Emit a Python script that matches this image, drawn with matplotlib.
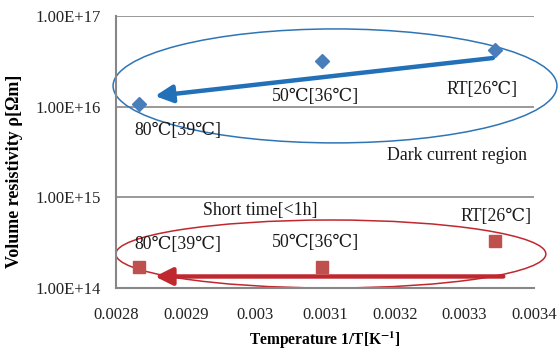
import matplotlib
matplotlib.use('Agg')
from matplotlib import pyplot as plt
from matplotlib.patches import Ellipse
from matplotlib.ticker import FixedLocator, FuncFormatter

plt.rcParams['font.family'] = ['Liberation Serif', 'DejaVu Serif', 'Noto Sans CJK JP']
plt.rcParams['mathtext.fontset'] = 'stix'

# data: 1/T [1/K] and volume resistivity [Ohm m]
inv_temp = [1 / 353, 1 / 323, 1 / 299]
rho_dark = [1.07e16, 3.2e16, 4.2e16]
rho_short = [1.7e14, 1.7e14, 3.3e14]

x_ticks = [0.0028, 0.0029, 0.0030, 0.0031, 0.0032, 0.0033, 0.0034]
y_ticks = [1e14, 1e15, 1e16, 1e17]

blue_labels = ['80℃[39℃]', '50℃[36℃]', 'RT[26℃]']
red_labels = ['80℃[39℃]', '50℃[36℃]', 'RT[26℃]']

fig = plt.figure(figsize=(5.58, 3.52), dpi=100)
ax = fig.add_axes([0.2079, 0.1818, 0.749, 0.7727])

grid_col = '#878787'
ax.set_yscale('log')
ax.set_xlim(0.0028, 0.0034)
ax.set_ylim(1e14, 1e17)
ax.yaxis.set_major_locator(FixedLocator(y_ticks))
ax.yaxis.set_minor_locator(FixedLocator([]))
ax.yaxis.set_major_formatter(FuncFormatter(lambda v, p: f'{v:.2E}'))
ax.xaxis.set_major_locator(FixedLocator(x_ticks))
ax.xaxis.set_major_formatter(FuncFormatter(lambda v, p: f'{round(v, 4):g}'))
ax.tick_params(length=0, labelsize=12, colors='#222222')
ax.tick_params(axis='x', pad=14)
ax.tick_params(axis='y', pad=11)
ax.grid(axis='y', color=grid_col, lw=1.2)
for s in ['top', 'right']:
    ax.spines[s].set_visible(False)
for s in ['left', 'bottom']:
    ax.spines[s].set_color(grid_col)
    ax.spines[s].set_linewidth(1.5)

ax.plot(inv_temp, rho_dark, 'D', color='#4A7EBB', markersize=7, clip_on=False, zorder=4)
ax.plot(inv_temp, rho_short, 's', color='#C0504D', markersize=9, clip_on=False, zorder=4)

# arrows
ax.annotate('', xy=(0.002856, 1.31e16), xytext=(0.003341, 3.44e16),
            arrowprops=dict(arrowstyle='-|>', lw=3.2, color='#2170B8',
                            mutation_scale=26, shrinkA=0, shrinkB=0), zorder=3)
ax.annotate('', xy=(0.002856, 1.34e14), xytext=(0.003356, 1.34e14),
            arrowprops=dict(arrowstyle='-|>', lw=3.2, color='#C0282F',
                            mutation_scale=26, shrinkA=0, shrinkB=0), zorder=3)

# ellipses
ax.add_patch(Ellipse((0.524, 0.743), 1.062, 0.419, transform=ax.transAxes,
                     fill=False, ec='#2E75B6', lw=1.1, clip_on=False, zorder=2))
ax.add_patch(Ellipse((0.514, 0.125), 1.029, 0.25, transform=ax.transAxes,
                     fill=False, ec='#C0282F', lw=1.1, clip_on=False, zorder=2))

fs = 12.8
tc = '#1a1a1a'
blue_pos = [(0.002827, 5.5e15), (0.003024, 1.28e16), (0.003275, 1.53e16)]
red_pos = [(0.002827, 3.0e14), (0.003024, 3.16e14), (0.003294, 6.1e14)]
for t, (x, y) in zip(blue_labels, blue_pos):
    ax.text(x, y, t, fontsize=fs, color=tc, ha='left', va='center')
for t, (x, y) in zip(red_labels, red_pos):
    ax.text(x, y, t, fontsize=fs, color=tc, ha='left', va='center')
ax.text(0.003189, 2.93e15, 'Dark current region', fontsize=fs, color=tc, ha='left', va='center')
ax.text(0.002925, 7.1e14, 'Short time[<1h]', fontsize=fs, color=tc, ha='left', va='center')

ax.set_xlabel(r'Temperature 1/T[K$^{\mathbf{-1}}$]', fontsize=11.2, fontweight='bold')
ax.set_ylabel('Volume resistivity ρ[Ωm]', fontsize=13, fontweight='bold')
ax.xaxis.set_label_coords(0.5, -0.155)
ax.yaxis.set_label_coords(-0.222, 0.43)

fig.savefig('out.png', dpi=100)
